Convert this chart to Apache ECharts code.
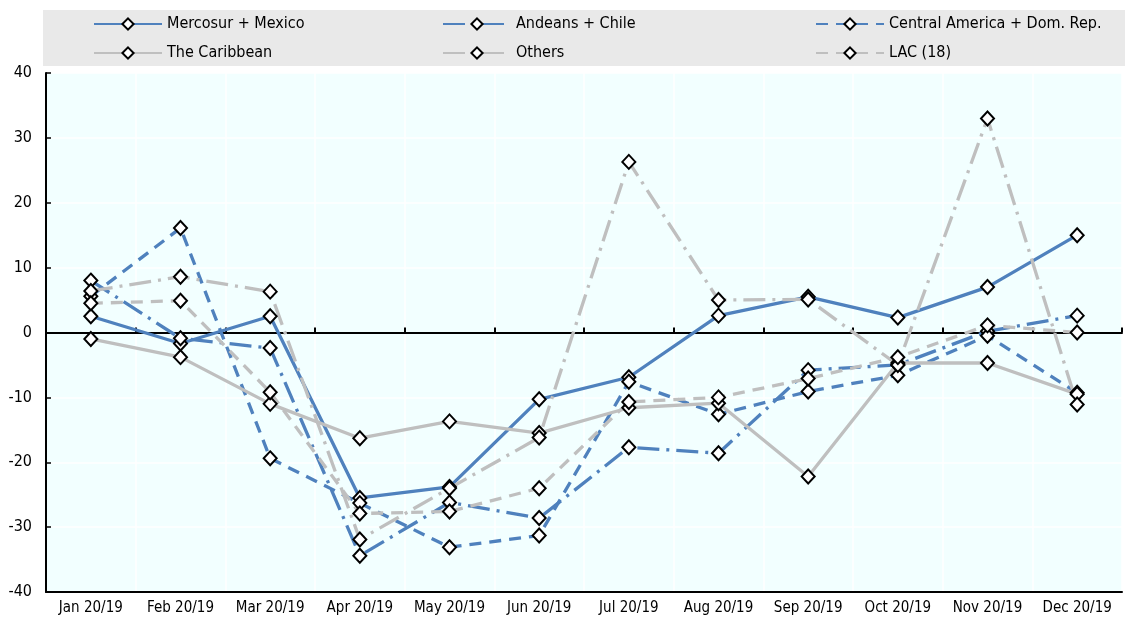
<!DOCTYPE html>
<html>
<head>
<meta charset="utf-8">
<script src="https://cdn.jsdelivr.net/npm/echarts@6/dist/echarts.min.js"></script>
<style>
html,body{margin:0;padding:0;background:#fff;}
#chart{width:1125px;height:617px;}
</style>
</head>
<body>
<div id="chart"></div>
<script>
var categories = ['Jan 20/19','Feb 20/19','Mar 20/19','Apr 20/19','May 20/19','Jun 20/19','Jul 20/19','Aug 20/19','Sep 20/19','Oct 20/19','Nov 20/19','Dec 20/19'];
var mercosurMexico = [2.5, -1.7, 2.5, -25.5, -23.8, -10.3, -6.9, 2.6, 5.5, 2.3, 7.0, 15.0];
var andeansChile = [8.0, -0.9, -2.4, -34.4, -26.2, -28.6, -17.7, -18.6, -5.8, -5.0, 0.2, 2.6];
var centralAmerica = [5.6, 16.1, -19.4, -26.3, -33.1, -31.3, -7.6, -12.6, -9.1, -6.6, -0.5, -9.3];
var caribbean = [-1.0, -3.8, -11.0, -16.3, -13.7, -15.5, -11.6, -10.9, -22.2, -4.7, -4.7, -9.5];
var others = [6.4, 8.6, 6.3, -31.9, -24.0, -16.2, 26.3, 5.0, 5.1, -5.0, 33.0, -11.1];
var lac18 = [4.5, 4.9, -9.2, -27.9, -27.6, -24.0, -10.7, -10.0, -7.1, -3.8, 1.1, 0.0];
var yTicks = {min: -40, max: 40, interval: 10};

var FONT = "'Liberation Sans Narrow','Arial Narrow','DejaVu Sans Condensed','Liberation Sans',sans-serif";
var BLUE = '#4F81BD';
var GREY = '#BFBFBF';

function mk(name, data, color, type) {
  return {
    name: name, type: 'line', data: data, xAxisIndex: 0,
    symbol: 'diamond', symbolSize: [13, 14],
    itemStyle: {color: '#ffffff', borderColor: '#000000', borderWidth: 2},
    lineStyle: {color: color, width: 3.3, type: type, cap: 'butt'},
    color: color,
    emphasis: {disabled: true},
    animation: false, z: 3
  };
}

var chart = echarts.init(document.getElementById('chart'), null, {renderer: 'canvas'});
var legendBase = {
  orient: 'vertical', top: 16, itemWidth: 68, itemHeight: 14, itemGap: 13,
  textStyle: {fontFamily: FONT, fontSize: 16, color: '#000'},
  selectedMode: false, padding: 0
};
chart.setOption({
  animation: false,
  backgroundColor: '#ffffff',
  graphic: [{
    type: 'rect', left: 43, top: 10, z: -1,
    shape: {width: 1082, height: 56},
    style: {fill: '#E9E9E9'}
  }],
  legend: [
    Object.assign({}, legendBase, {left: 93, data: ['Mercosur + Mexico', 'The Caribbean']}),
    Object.assign({}, legendBase, {left: 442, data: ['Andeans + Chile', 'Others']}),
    Object.assign({}, legendBase, {left: 815, data: ['Central America + Dom. Rep.', 'LAC (18)']})
  ],
  grid: {left: 46, right: 3, top: 73, bottom: 25, show: true, backgroundColor: '#F2FFFF', borderWidth: 0},
  xAxis: [{
    type: 'category', data: categories, boundaryGap: true,
    axisLine: {onZero: false, lineStyle: {color: '#000', width: 2}},
    axisTick: {show: false},
    axisLabel: {fontFamily: FONT, fontSize: 15, color: '#000', margin: 9, interval: 0},
    splitLine: {show: true, interval: 0, lineStyle: {color: '#ffffff', width: 1.5}}
  }, {
    type: 'category', data: categories, boundaryGap: true, position: 'bottom',
    axisLine: {onZero: true, onZeroAxisIndex: 0, lineStyle: {color: '#000', width: 2}},
    axisTick: {show: true, inside: true, length: 5, interval: 0, lineStyle: {color: '#000', width: 2}},
    axisLabel: {show: false},
    splitLine: {show: false}
  }],
  yAxis: [{
    type: 'value', min: yTicks.min, max: yTicks.max, interval: yTicks.interval,
    axisLine: {show: true, lineStyle: {color: '#000', width: 2}},
    axisTick: {show: true, inside: true, length: 5, lineStyle: {color: '#000', width: 1.5}},
    axisLabel: {fontFamily: FONT, fontSize: 16, color: '#000', margin: 14},
    splitLine: {show: true, lineStyle: {color: '#ffffff', width: 1.5}}
  }],
  series: [
    mk('Mercosur + Mexico', mercosurMexico, BLUE, 'solid'),
    mk('Andeans + Chile', andeansChile, BLUE, [22, 7, 3, 7]),
    mk('Central America + Dom. Rep.', centralAmerica, BLUE, [12, 8]),
    mk('The Caribbean', caribbean, GREY, 'solid'),
    mk('Others', others, GREY, [22, 7, 3, 7]),
    mk('LAC (18)', lac18, GREY, [12, 8])
  ]
});
</script>
</body>
</html>
